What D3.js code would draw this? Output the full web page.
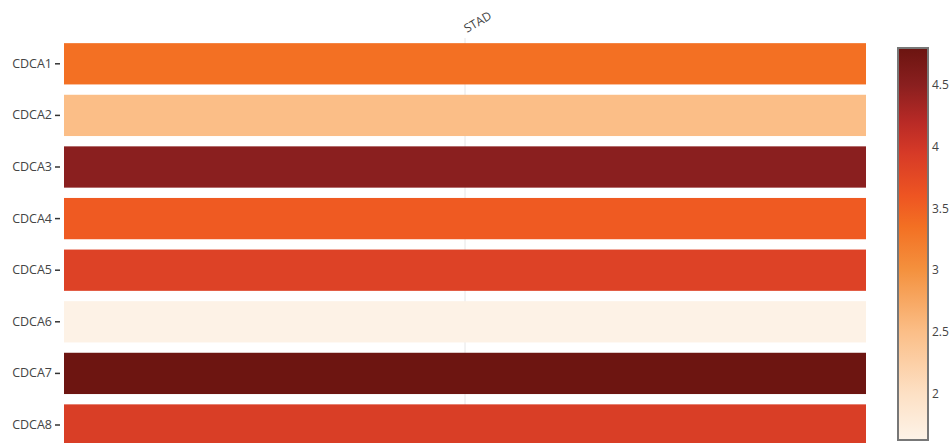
<!DOCTYPE html>
<html>
<head>
<meta charset="utf-8">
<script src="https://cdn.jsdelivr.net/npm/d3@7"></script>
<style>
  body { margin: 0; background: #fff; }
  svg { display: block; font-family: "Open Sans", "DejaVu Sans", sans-serif; }
</style>
</head>
<body>
<svg id="chart" width="950" height="443"></svg>
<script>
// data
const genes = ['CDCA1', 'CDCA2', 'CDCA3', 'CDCA4', 'CDCA5', 'CDCA6', 'CDCA7', 'CDCA8'];
const cancers = ['STAD'];
const values = [3.35, 2.5, 4.5, 3.55, 3.85, 1.64, 4.78, 3.9];

// colour scale stops
const stopValues = [1.62, 2.0, 2.5, 3.0, 3.35, 3.6, 3.95, 4.2, 4.5, 4.8];
const stopColors = ['#fdf3e8', '#fde0c4', '#fbbe87', '#f4913e', '#f37023', '#ee5522', '#d63a27', '#b82a26', '#8a1f1f', '#6b1410'];
const barTicks = [2, 2.5, 3, 3.5, 4, 4.5];

const svg = d3.select('#chart');
const plot = { left: 64, right: 866, top: 38 };
const rowStep = 51.6;

const color = d3.scaleLinear()
  .domain(stopValues)
  .range(stopColors)
  .interpolate(d3.interpolateRgb)
  .clamp(true);

const x = d3.scaleBand()
  .domain(cancers)
  .range([plot.left, plot.right]);

const y = d3.scaleBand()
  .domain(genes)
  .range([plot.top, plot.top + rowStep * genes.length])
  .paddingInner(0.2)
  .paddingOuter(0.1);

/****************** grid ******************/
svg.append('line')
  .attr('x1', x('STAD') + x.bandwidth() / 2)
  .attr('x2', x('STAD') + x.bandwidth() / 2)
  .attr('y1', plot.top)
  .attr('y2', 443)
  .attr('stroke', '#e6e6e6')
  .attr('stroke-width', 1);

/****************** cells ******************/
svg.append('g')
  .selectAll('rect')
  .data(genes)
  .join('rect')
  .attr('x', x('STAD'))
  .attr('width', x.bandwidth())
  .attr('y', d => y(d))
  .attr('height', y.bandwidth())
  .attr('fill', (d, i) => color(values[i]));

/****************** y axis ******************/
const yAxis = svg.append('g')
  .attr('transform', `translate(${plot.left - 4},0)`)
  .call(d3.axisLeft(y).tickSize(5).tickPadding(3));
yAxis.select('.domain').remove();
yAxis.selectAll('line').attr('stroke', '#333').attr('stroke-width', 1.5);
yAxis.selectAll('text')
  .attr('fill', '#444')
  .style('font-size', '12.5px')
  .style('font-family', '"Open Sans", sans-serif');

/****************** top label ******************/
svg.append('text')
  .text('STAD')
  .attr('transform', `translate(${x('STAD') + x.bandwidth() / 2 + 2},${plot.top - 5}) rotate(-30)`)
  .attr('text-anchor', 'start')
  .attr('fill', '#444')
  .style('font-size', '12px');

/****************** colour bar ******************/
const bar = { x: 898, width: 30, top: 48, bottom: 440 };
const cy = d3.scaleLinear()
  .domain([stopValues[0], stopValues[stopValues.length - 1]])
  .range([bar.bottom, bar.top]);

const grad = svg.append('defs').append('linearGradient')
  .attr('id', 'cbar')
  .attr('x1', 0).attr('x2', 0).attr('y1', 1).attr('y2', 0);
grad.selectAll('stop')
  .data(stopValues)
  .join('stop')
  .attr('offset', d => (d - stopValues[0]) / (stopValues[stopValues.length - 1] - stopValues[0]))
  .attr('stop-color', (d, i) => stopColors[i]);

svg.append('rect')
  .attr('x', bar.x)
  .attr('y', bar.top)
  .attr('width', bar.width)
  .attr('height', bar.bottom - bar.top)
  .attr('fill', 'url(#cbar)')
  .attr('stroke', '#777')
  .attr('stroke-width', 2);

const cAxis = svg.append('g')
  .attr('transform', `translate(${bar.x + bar.width + 1},0)`)
  .call(d3.axisRight(cy).tickValues(barTicks).tickSize(0).tickPadding(3).tickFormat(d3.format('')));
cAxis.select('.domain').remove();
cAxis.selectAll('text')
  .attr('fill', '#444')
  .style('font-size', '12px')
  .style('font-family', '"Open Sans", sans-serif');
</script>
</body>
</html>
